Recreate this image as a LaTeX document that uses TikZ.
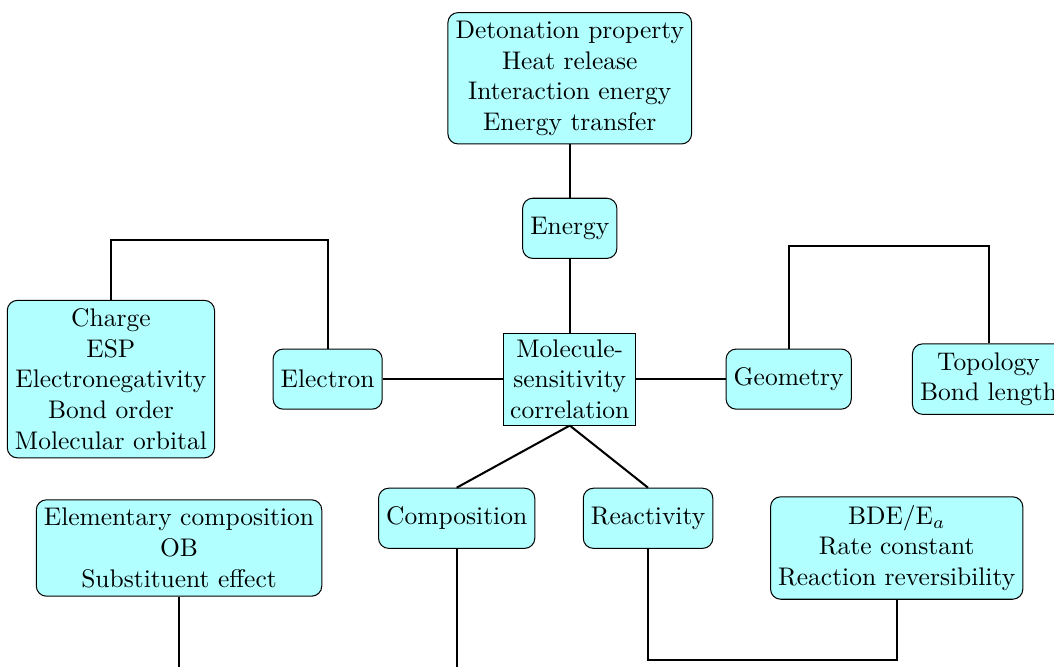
\documentclass[tikz,border=0pt]{standalone}
\usetikzlibrary{positioning}

\definecolor{cyanclair}{RGB}{178,255,255}

\tikzset{
  boite/.style={draw, rounded corners=4pt, fill=cyanclair, align=center, minimum height=0.83cm, inner xsep=3pt},
  centre/.style={draw, fill=cyanclair, align=center, inner sep=2.5pt},
  lien/.style={thick}
}

\begin{document}
\begin{tikzpicture}
  % cadre de l'image
  \clip (-7.86,-3.96) rectangle (6.68,5.23);

  % noeud central
  \node[centre] (mol) at (0,0) {Molecule-\\sensitivity\\correlation};

  % les six familles
  \node[boite] (ener) at (0,2.08) {Energy};
  \node[boite] (elec) at (-3.34,0) {Electron};
  \node[boite] (geom) at (3.02,0) {Geometry};
  \node[boite] (comp) at (-1.56,-1.92) {Composition};
  \node[boite] (reac) at (1.08,-1.92) {Reactivity};

  % les descripteurs
  \node[boite] (detail-ener) at (0,4.15) {Detonation property\\Heat release\\Interaction energy\\Energy transfer};
  \node[boite] (detail-elec) at (-6.33,0) {Charge\\ESP\\Electronegativity\\Bond order\\Molecular orbital};
  \node[boite, anchor=west] (detail-geom) at (4.72,0) {Topology\\Bond length};
  \node[boite] (detail-comp) at (-5.39,-2.33) {Elementary composition\\OB\\Substituent effect};
  \node[boite] (detail-reac) at (4.51,-2.33) {BDE/E$_a$\\Rate constant\\Reaction reversibility};

  % points libres
  \coordinate (bas-reac) at (1.08,-3.88);
  \coordinate (bas-comp) at (-1.56,-4.6);
  \coordinate (bas-detail) at (-5.39,-4.6);

  % liaisons
  \draw[lien] (detail-ener.south) -- (ener.north);
  \draw[lien] (ener.south) -- (mol.north);
  \draw[lien] (elec.east) -- (mol.west);
  \draw[lien] (mol.east) -- (geom.west);
  \draw[lien] (mol.south) -- (comp.north);
  \draw[lien] (mol.south) -- (reac.north);
  \draw[lien] (detail-elec.north) |- ++(0,0.83) -| (elec.north);
  \draw[lien] (geom.north) |- ++(0,1.41) -| (detail-geom.north);
  \draw[lien] (reac.south) -- (bas-reac) -| (detail-reac.south);
  \draw[lien] (comp.south) -- (bas-comp);
  \draw[lien] (detail-comp.south) -- (bas-detail);
\end{tikzpicture}
\end{document}
